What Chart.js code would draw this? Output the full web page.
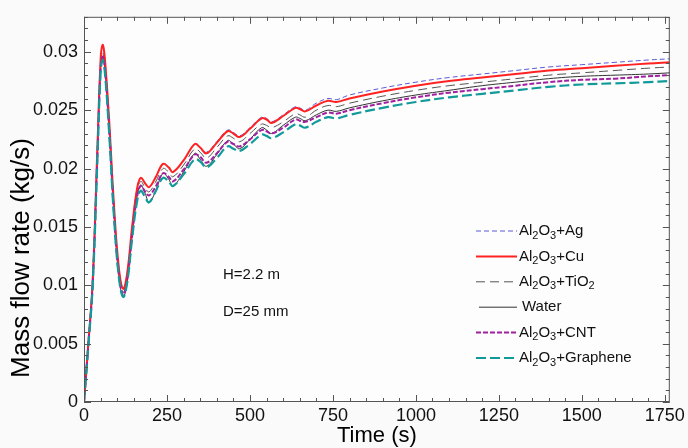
<!DOCTYPE html>
<html>
<head>
  <meta charset="utf-8" />
  <title>Mass flow rate vs time</title>
  <script src="https://cdn.jsdelivr.net/npm/chart.js"></script>
  <style>
    html, body { margin: 0; padding: 0; background: #fafafa; }
    #chart { display: block; }
  </style>
</head>
<body>
  <canvas id="chart" width="688" height="448"></canvas>
  <script>
    // time (s)
    var times = [0, 13, 26, 40, 50, 56, 62, 75, 90, 105, 118, 130, 145, 160, 171, 185, 196, 215, 238, 255,
      268, 300, 334, 350, 369, 400, 433, 450, 469, 500, 535, 550, 565, 600, 637, 650, 667, 700, 735, 760, 800,
      900, 1000, 1100, 1200, 1300, 1400, 1500, 1600, 1700, 1765];

    // mass flow rate (kg/s) for each fluid
    var agFlow = [0, .0050, .0103, .0214, .0292, .0305, .0296, .0245, .0170, .0115, .0097, .0110, .0150, .0183, .0192, .0187, .0184, .0192, .0204, .0201,
      .0197, .0207, .0221, .0218, .0214, .0223, .0233, .0231, .0228, .0235, .0244, .0243, .0240, .0246, .0253, .0252, .0250, .0256, .0260, .0259, .0263,
      .0269, .0274, .0278, .0281, .0284, .0287, .0289, .0291, .0293, .0294];
    var cuFlow = [0, .0050, .0103, .0215, .0293, .0306, .0297, .0245, .0170, .0115, .0097, .0110, .0150, .0183, .0192, .0187, .0184, .0192, .0204, .0201,
      .0197, .0207, .0221, .0218, .0213, .0222, .0232, .0230, .0227, .0234, .0243, .0242, .0239, .0245, .0252, .0251, .0249, .0254, .0258, .0257, .0260,
      .0266, .0271, .0275, .0278, .0281, .0284, .0286, .0288, .0290, .0291];
    var tio2Flow = [0, .0049, .0101, .0210, .0287, .0299, .0291, .0240, .0166, .0112, .0094, .0107, .0146, .0179, .0189, .0183, .0180, .0188, .0200, .0197,
      .0193, .0203, .0217, .0214, .0209, .0218, .0228, .0226, .0223, .0230, .0238, .0237, .0235, .0240, .0247, .0246, .0244, .0250, .0254, .0253, .0256,
      .0262, .0267, .0271, .0274, .0277, .0280, .0282, .0284, .0286, .0287];
    var waterFlow = [0, .0049, .0100, .0208, .0285, .0296, .0288, .0236, .0162, .0108, .0090, .0103, .0142, .0176, .0186, .0178, .0171, .0180, .0196, .0191,
      .0185, .0197, .0213, .0208, .0202, .0212, .0224, .0221, .0217, .0225, .0235, .0233, .0230, .0237, .0244, .0243, .0241, .0246, .0250, .0249, .0252,
      .0258, .0263, .0267, .0271, .0274, .0277, .0279, .0280, .0281, .0282];
    var cntFlow = [0, .0049, .0100, .0208, .0285, .0296, .0288, .0237, .0163, .0109, .0092, .0104, .0143, .0176, .0185, .0180, .0177, .0184, .0196, .0193,
      .0189, .0199, .0212, .0210, .0205, .0213, .0223, .0221, .0219, .0225, .0233, .0232, .0230, .0235, .0242, .0241, .0240, .0244, .0248, .0247, .0250,
      .0256, .0261, .0265, .0268, .0271, .0274, .0276, .0277, .0279, .0280];
    var grapheneFlow = [0, .0048, .0099, .0205, .0282, .0293, .0285, .0234, .0160, .0107, .0090, .0102, .0140, .0172, .0181, .0175, .0171, .0180, .0192, .0189,
      .0185, .0195, .0208, .0206, .0201, .0209, .0219, .0217, .0215, .0221, .0229, .0228, .0226, .0231, .0238, .0237, .0235, .0240, .0244, .0243, .0246,
      .0252, .0257, .0261, .0264, .0267, .0270, .0272, .0273, .0274, .0275];

    var seriesNames = ['Al2O3+Ag', 'Al2O3+Cu', 'Al2O3+TiO2', 'Water', 'Al2O3+CNT', 'Al2O3+Graphene'];
    var xTickLabels = [0, 250, 500, 750, 1000, 1250, 1500, 1750];
    var yTickLabels = [0, 0.005, 0.01, 0.015, 0.02, 0.025, 0.03];
    var notes = ['H=2.2 m', 'D=25 mm'];

    var styles = [
      { color: '#5a5ad8', width: 1, dash: [5, 3] },
      { color: '#ff2222', width: 2, dash: [] },
      { color: '#555555', width: 1, dash: [9, 5] },
      { color: '#333333', width: 1, dash: [] },
      { color: '#a0209f', width: 2, dash: [5, 2] },
      { color: '#129a9a', width: 2.2, dash: [10, 4] }
    ];
    var values = [agFlow, cuFlow, tio2Flow, waterFlow, cntFlow, grapheneFlow];
    var drawOrder = [4, 3, 5, 6, 2, 1];

    function toPoints(arr) {
      return times.map(function (t, i) { return { x: t, y: arr[i] }; });
    }

    var datasets = seriesNames.map(function (name, i) {
      return {
        label: name,
        data: toPoints(values[i]),
        borderColor: styles[i].color,
        borderWidth: styles[i].width,
        borderDash: styles[i].dash,
        pointRadius: 0,
        fill: false,
        tension: 0.4,
        order: drawOrder[i]
      };
    });

    // text with digits as subscripts (Al2O3 etc.)
    function drawChem(ctx, text, x, y, size) {
      var parts = text.split(/(\d)/);
      parts.forEach(function (p) {
        if (!p) return;
        if (/^\d$/.test(p)) {
          ctx.font = Math.round(size * 0.72) + 'px "Liberation Sans", Arial, sans-serif';
          ctx.fillText(p, x, y + size * 0.3);
        } else {
          ctx.font = size + 'px "Liberation Sans", Arial, sans-serif';
          ctx.fillText(p, x, y);
        }
        x += ctx.measureText(p).width;
      });
    }

    var decorPlugin = {
      id: 'decor',
      beforeDraw: function (chart) {
        var ctx = chart.ctx, a = chart.chartArea;
        ctx.save();
        ctx.fillStyle = '#fafafa';
        ctx.fillRect(0, 0, chart.width, chart.height);
        ctx.fillStyle = '#fdfdfd';
        ctx.fillRect(a.left, a.top, a.right - a.left, a.bottom - a.top);
        ctx.restore();
      },
      afterDraw: function (chart) {
        var ctx = chart.ctx, a = chart.chartArea;
        var xs = chart.scales.x, ys = chart.scales.y;
        ctx.save();
        // frame
        ctx.strokeStyle = '#555555';
        ctx.lineWidth = 1;
        ctx.strokeRect(a.left + 0.5, a.top + 0.5, a.right - a.left - 1, a.bottom - a.top - 1);
        // inward ticks, all four sides
        ctx.beginPath();
        for (var t = 0; t <= xs.max; t += 50) {
          var px = Math.round(xs.getPixelForValue(t)) + 0.5;
          var len = (t % 250 === 0) ? 7 : 4;
          ctx.moveTo(px, a.bottom); ctx.lineTo(px, a.bottom - len);
          ctx.moveTo(px, a.top); ctx.lineTo(px, a.top + len);
        }
        for (var k = 0; k * 0.001 <= ys.max + 1e-9; k++) {
          var py = Math.round(ys.getPixelForValue(k * 0.001)) + 0.5;
          var ylen = (k % 5 === 0) ? 7 : 4;
          ctx.moveTo(a.left, py); ctx.lineTo(a.left + ylen, py);
          ctx.moveTo(a.right, py); ctx.lineTo(a.right - ylen, py);
        }
        ctx.stroke();

        // legend
        ctx.fillStyle = '#111111';
        ctx.textBaseline = 'middle';
        ctx.textAlign = 'left';
        seriesNames.forEach(function (name, i) {
          var y = 231 + i * 25.4;
          var s = styles[i];
          ctx.strokeStyle = s.color;
          ctx.lineWidth = s.width;
          ctx.setLineDash(s.dash);
          ctx.beginPath();
          ctx.moveTo(name === 'Water' ? 479 : 476, y);
          ctx.lineTo(517, y);
          ctx.stroke();
          ctx.setLineDash([]);
          drawChem(ctx, name, name === 'Water' ? 522 : 519, y, 15);
        });

        // notes
        ctx.font = '15px "Liberation Sans", Arial, sans-serif';
        ctx.fillText(notes[0], 223, 275);
        ctx.fillText(notes[1], 223, 312);

        // axis titles
        ctx.fillStyle = '#000000';
        ctx.font = '22px "Liberation Sans", Arial, sans-serif';
        ctx.textAlign = 'center';
        ctx.fillText('Time (s)', (a.left + a.right) / 2, 436);
        ctx.font = '26px "Liberation Sans", Arial, sans-serif';
        ctx.translate(22, 258);
        ctx.rotate(-Math.PI / 2);
        ctx.fillText('Mass flow rate (kg/s)', 0, 0);
        ctx.restore();
      }
    };

    new Chart(document.getElementById('chart'), {
      type: 'line',
      data: { datasets: datasets },
      options: {
        responsive: false,
        animation: false,
        layout: { padding: { top: 13, right: 18, left: 0, bottom: 0 } },
        plugins: { legend: { display: false }, tooltip: { enabled: false } },
        scales: {
          x: {
            type: 'linear',
            min: 0,
            max: 1765,
            grid: { display: false, drawTicks: false },
            border: { display: false },
            afterBuildTicks: function (scale) {
              scale.ticks = xTickLabels.map(function (v) { return { value: v }; });
            },
            afterFit: function (scale) { scale.height = 46; },
            ticks: {
              padding: 3,
              color: '#111111',
              font: { family: '"Liberation Sans", Arial, sans-serif', size: 18 },
              maxRotation: 0,
              autoSkip: false,
              callback: function (v) { return String(v); }
            }
          },
          y: {
            min: 0,
            max: 0.033,
            grid: { display: false, drawTicks: false },
            border: { display: false },
            afterBuildTicks: function (scale) {
              scale.ticks = yTickLabels.map(function (v) { return { value: v }; });
            },
            afterFit: function (scale) { scale.width = 84; },
            ticks: {
              padding: 6,
              color: '#111111',
              font: { family: '"Liberation Sans", Arial, sans-serif', size: 18 },
              autoSkip: false,
              callback: function (v) { return String(+v.toFixed(3)); }
            }
          }
        }
      },
      plugins: [decorPlugin]
    });
  </script>
</body>
</html>
